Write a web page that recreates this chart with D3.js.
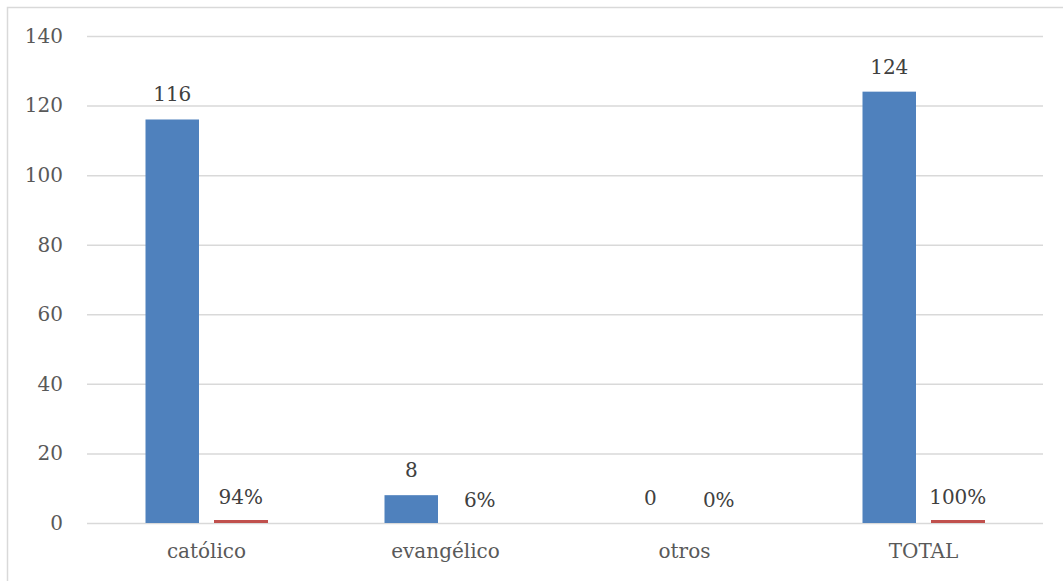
<!DOCTYPE html>
<html>
<head>
<meta charset="utf-8">
<script src="https://cdn.jsdelivr.net/npm/d3@7"></script>
<style>
  html, body { margin: 0; padding: 0; background: #fff; }
  svg { display: block; }
  text { font-family: "DejaVu Serif", "Liberation Serif", serif; }
</style>
</head>
<body>
<svg id="chart" width="1063" height="581"></svg>
<script>
// Religion counts and their share of the total
const categories = ["católico", "evangélico", "otros", "TOTAL"];
const counts = [116, 8, 0, 124];
const shares = [0.94, 0.06, 0, 1.00];
const yTicks = [0, 20, 40, 60, 80, 100, 120, 140];

const W = 1063, H = 581;
const margin = { top: 36, left: 87 };
const plotRight = 1043;
const fontSize = 20;

const svg = d3.select("#chart");

// Outer chart frame (top and left edges visible)
svg.append("rect")
  .attr("x", 7.5).attr("y", 7.5)
  .attr("width", W + 10).attr("height", H + 10)
  .attr("fill", "none")
  .attr("stroke", "#d9d9d9")
  .attr("stroke-width", 1.5);

const x = d3.scaleBand()
  .domain(categories)
  .range([margin.left, plotRight])
  .paddingInner(0).paddingOuter(0);

const y = d3.scaleLinear()
  .domain([0, 140])
  .range([523, margin.top]);

// Gridlines and y tick labels
const yAxis = d3.axisLeft(y)
  .tickValues(yTicks)
  .tickSize(-(plotRight - margin.left))
  .tickPadding(24)
  .tickFormat(d3.format("d"));

const gy = svg.append("g")
  .attr("transform", `translate(${margin.left},0)`)
  .call(yAxis);
gy.select(".domain").remove();
gy.selectAll(".tick line").attr("stroke", "#d9d9d9").attr("stroke-width", 1.5);
gy.selectAll(".tick text")
  .attr("fill", "#595959")
  .attr("font-size", fontSize)
  .attr("font-family", "DejaVu Serif, serif");

// Category labels
const gx = svg.append("g")
  .attr("transform", `translate(0,523)`)
  .call(d3.axisBottom(x).tickSize(0).tickPadding(21));
gx.select(".domain").remove();
gx.selectAll(".tick text")
  .attr("fill", "#595959")
  .attr("font-size", fontSize)
  .attr("font-family", "DejaVu Serif, serif");

// Bar geometry within each category band
const barW = 53.5;
const gap = 15;
const offsets = [-(gap / 2 + barW), gap / 2];

const blueX = c => x(c) + x.bandwidth() / 2 + offsets[0];
const redX = c => x(c) + x.bandwidth() / 2 + offsets[1];

// Count bars
svg.append("g").selectAll("rect")
  .data(categories)
  .join("rect")
  .attr("x", c => blueX(c))
  .attr("y", (c, i) => y(counts[i]))
  .attr("width", barW)
  .attr("height", (c, i) => y(0) - y(counts[i]))
  .attr("fill", "#4f81bd");

// Share bars (plotted on the same axis)
svg.append("g").selectAll("rect")
  .data(categories)
  .join("rect")
  .attr("x", c => redX(c))
  .attr("y", (c, i) => y(shares[i]))
  .attr("width", barW)
  .attr("height", (c, i) => y(0) - y(shares[i]))
  .attr("shape-rendering", "crispEdges")
  .attr("fill", "#c0504d");

// Value labels
svg.append("g").selectAll("text")
  .data(categories)
  .join("text")
  .attr("x", c => blueX(c) + barW / 2)
  .attr("y", (c, i) => y(counts[i]) - 18)
  .attr("text-anchor", "middle")
  .attr("font-size", fontSize)
  .attr("fill", "#404040")
  .text((c, i) => counts[i]);

svg.append("g").selectAll("text")
  .data(categories)
  .join("text")
  .attr("x", c => redX(c) + barW / 2)
  .attr("y", (c, i) => y(shares[i]) - 16)
  .attr("text-anchor", "middle")
  .attr("font-size", fontSize)
  .attr("fill", "#404040")
  .text((c, i) => d3.format(".0%")(shares[i]));
</script>
</body>
</html>
